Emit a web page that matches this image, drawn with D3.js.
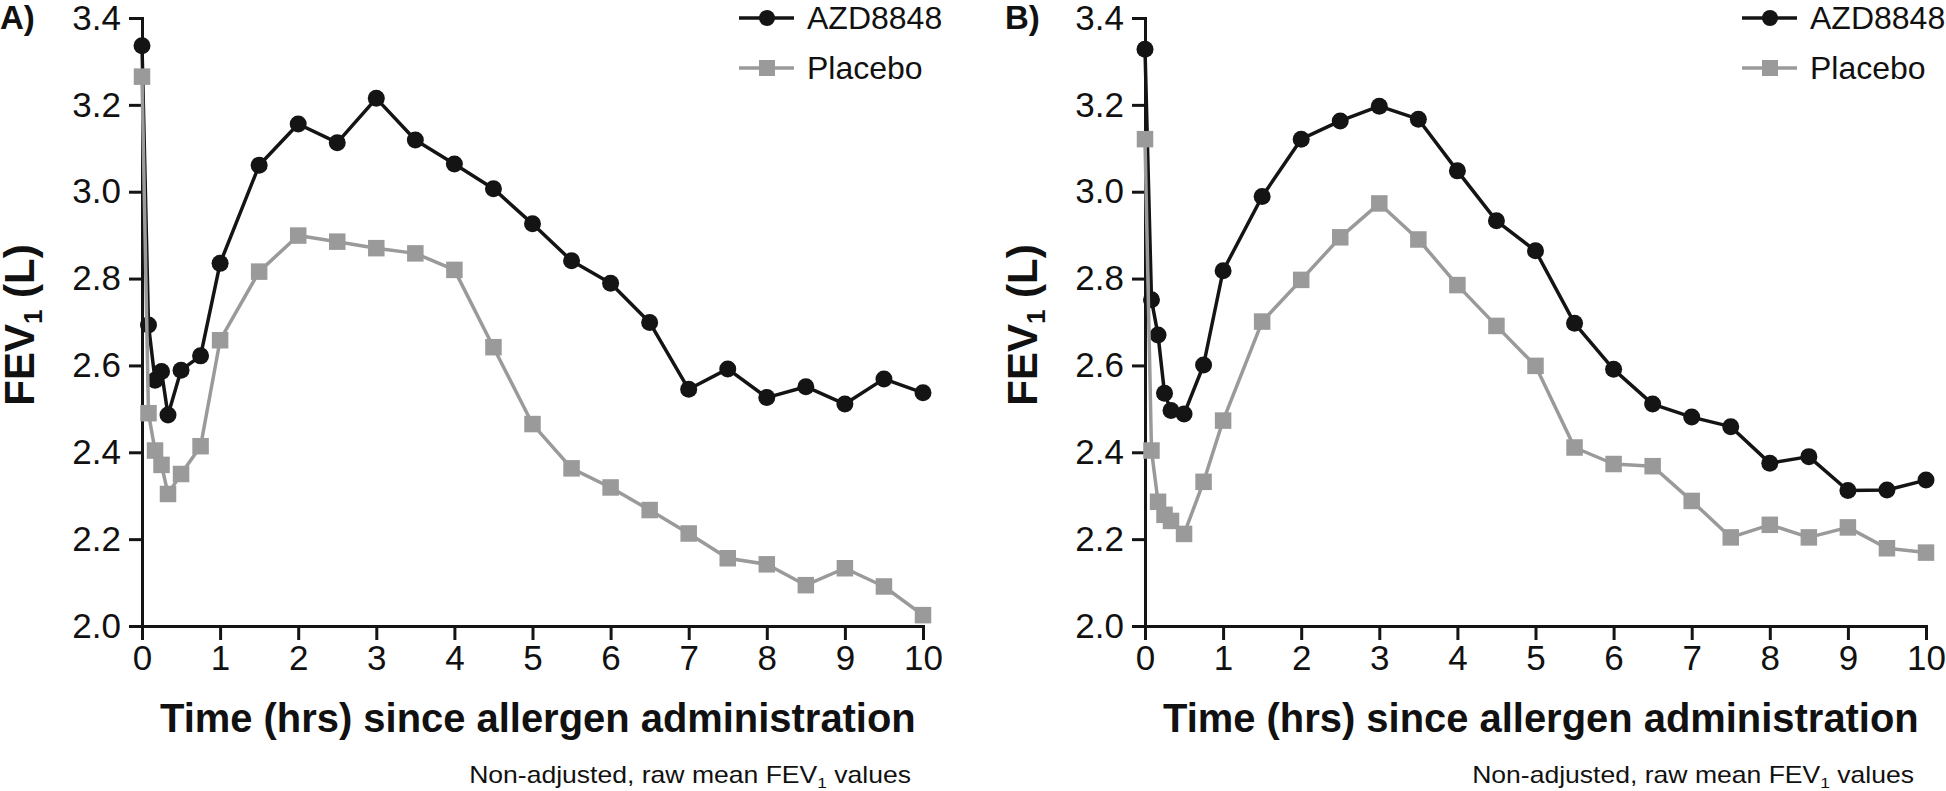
<!DOCTYPE html>
<html>
<head>
<meta charset="utf-8">
<script src="https://cdn.jsdelivr.net/npm/d3@7"></script>
<style>
  html, body { margin: 0; padding: 0; background: #fff; }
  svg { display: block; }
  text { font-family: "Liberation Sans", Arial, Helvetica, sans-serif; fill: #111; }
</style>
</head>
<body>
<svg id="chart" width="1946" height="791"></svg>
<script>
// ---- Data ----
const times = [0, 0.083, 0.167, 0.25, 0.333, 0.5, 0.75, 1, 1.5, 2, 2.5, 3, 3.5, 4, 4.5, 5, 5.5, 6, 6.5, 7, 7.5, 8, 8.5, 9, 9.5, 10];

const azdA = [3.336, 2.693, 2.566, 2.586, 2.486, 2.589, 2.622, 2.835, 3.061, 3.156, 3.113, 3.215, 3.119, 3.064, 3.007, 2.926, 2.841, 2.789, 2.699, 2.545, 2.592, 2.526, 2.551, 2.511, 2.569, 2.537];
const placeboA = [3.265, 2.490, 2.404, 2.371, 2.304, 2.350, 2.414, 2.658, 2.816, 2.899, 2.885, 2.870, 2.858, 2.820, 2.642, 2.465, 2.363, 2.319, 2.267, 2.213, 2.156, 2.142, 2.094, 2.133, 2.091, 2.025];

const azdB = [3.328, 2.751, 2.670, 2.536, 2.496, 2.488, 2.601, 2.818, 2.989, 3.121, 3.163, 3.197, 3.167, 3.048, 2.933, 2.864, 2.697, 2.591, 2.511, 2.481, 2.459, 2.375, 2.390, 2.312, 2.313, 2.336];
const placeboB = [3.121, 2.404, 2.286, 2.256, 2.242, 2.212, 2.332, 2.473, 2.701, 2.797, 2.895, 2.973, 2.890, 2.785, 2.691, 2.599, 2.411, 2.373, 2.368, 2.288, 2.204, 2.233, 2.204, 2.227, 2.179, 2.169];

const xTicks = [0, 1, 2, 3, 4, 5, 6, 7, 8, 9, 10];
const yTicks = [2.0, 2.2, 2.4, 2.6, 2.8, 3.0, 3.2, 3.4];
const seriesNames = ["AZD8848", "Placebo"];
const panelLabels = ["A)", "B)"];
const xTitle = "Time (hrs) since allergen administration";

// ---- Drawing ----
const BLACK = "#141414", GREY = "#9a9a9a";
const svg = d3.select("#chart");
svg.append("rect").attr("width", 1946).attr("height", 791).attr("fill", "#fff");

const panels = [
  { off: 0, label: panelLabels[0], azd: azdA, pla: placeboA },
  { off: 1003, label: panelLabels[1], azd: azdB, pla: placeboB }
];

panels.forEach(p => {
  const g = svg.append("g").attr("transform", `translate(${p.off},0)`);
  const x = d3.scaleLinear().domain([0, 10]).range([142, 923]);
  const y = d3.scaleLinear().domain([2.0, 3.4]).range([626, 18]);

  // Axes
  const ya = g.append("g").attr("transform", `translate(${x(0)},0)`)
    .call(d3.axisLeft(y).tickValues(yTicks).tickFormat(d => d.toFixed(1))
      .tickSize(13).tickPadding(8).tickSizeOuter(0));
  const xa = g.append("g").attr("transform", `translate(0,${y(2.0)})`)
    .call(d3.axisBottom(x).tickValues(xTicks).tickFormat(d3.format("d"))
      .tickSize(14).tickPadding(5).tickSizeOuter(0));
  [ya, xa].forEach(a => {
    a.select(".domain").attr("stroke", BLACK).attr("stroke-width", 3).attr("stroke-linecap", "square");
    a.selectAll(".tick line").attr("stroke", BLACK).attr("stroke-width", 3);
    a.selectAll(".tick text").attr("font-size", 35).attr("fill", "#111")
      .attr("font-family", '"Liberation Sans", Arial, Helvetica, sans-serif');
  });

  // Lines
  const line = d3.line().x((d, i) => x(times[i])).y(d => y(d));
  g.append("path").datum(p.azd).attr("d", line).attr("fill", "none")
    .attr("stroke", BLACK).attr("stroke-width", 3.5).attr("stroke-linejoin", "round");
  g.selectAll("circle.azd").data(p.azd).enter().append("circle").attr("class", "azd")
    .attr("cx", (d, i) => x(times[i])).attr("cy", d => y(d)).attr("r", 8.5).attr("fill", BLACK);

  g.append("path").datum(p.pla).attr("d", line).attr("fill", "none")
    .attr("stroke", GREY).attr("stroke-width", 3.5).attr("stroke-linejoin", "round");
  const sq = 16.5;
  g.selectAll("rect.pla").data(p.pla).enter().append("rect").attr("class", "pla")
    .attr("x", (d, i) => x(times[i]) - sq / 2).attr("y", d => y(d) - sq / 2)
    .attr("width", sq).attr("height", sq).attr("fill", GREY);

  // Legend
  const legY = [18, 68];
  seriesNames.forEach((name, i) => {
    const col = i === 0 ? BLACK : GREY;
    g.append("line").attr("x1", 739).attr("x2", 794).attr("y1", legY[i]).attr("y2", legY[i])
      .attr("stroke", col).attr("stroke-width", 3.5);
    if (i === 0) {
      g.append("circle").attr("cx", 767).attr("cy", legY[i]).attr("r", 8).attr("fill", col);
    } else {
      g.append("rect").attr("x", 767 - 8).attr("y", legY[i] - 8).attr("width", 16).attr("height", 16).attr("fill", col);
    }
    g.append("text").attr("x", 807).attr("y", legY[i]).attr("dy", "0.35em")
      .attr("font-size", 32).text(name);
  });

  // Panel label
  g.append("text").attr("x", p.off === 0 ? 0 : 2).attr("y", 29).attr("font-size", 33)
    .attr("font-weight", "bold").text(p.label);

  // Y title
  const yt = g.append("text").attr("transform", "translate(34,325) rotate(-90)")
    .attr("text-anchor", "middle").attr("font-size", 42).attr("font-weight", "bold");
  yt.append("tspan").text("FEV");
  yt.append("tspan").attr("font-size", 26).attr("dy", 8).text("1");
  yt.append("tspan").attr("dy", -8).text(" (L)");

  // X title (condensed to match reference width)
  const xt = g.append("text").attr("font-size", 40).attr("font-weight", "bold").text(xTitle);
  const w1 = xt.node().getComputedTextLength();
  xt.attr("transform", `translate(${x(0) + 18},732) scale(${756 / w1},1)`);

  // Footnote
  const fn = g.append("text").attr("font-size", 23).attr("text-anchor", "end");
  fn.append("tspan").text("Non-adjusted, raw mean FEV");
  fn.append("tspan").attr("font-size", 15).attr("dy", 5).text("1");
  fn.append("tspan").attr("dy", -5).text(" values");
  const w2 = fn.node().getComputedTextLength();
  fn.attr("transform", `translate(${x(10) - 12},783) scale(${442 / w2},1)`);
});
</script>
</body>
</html>
